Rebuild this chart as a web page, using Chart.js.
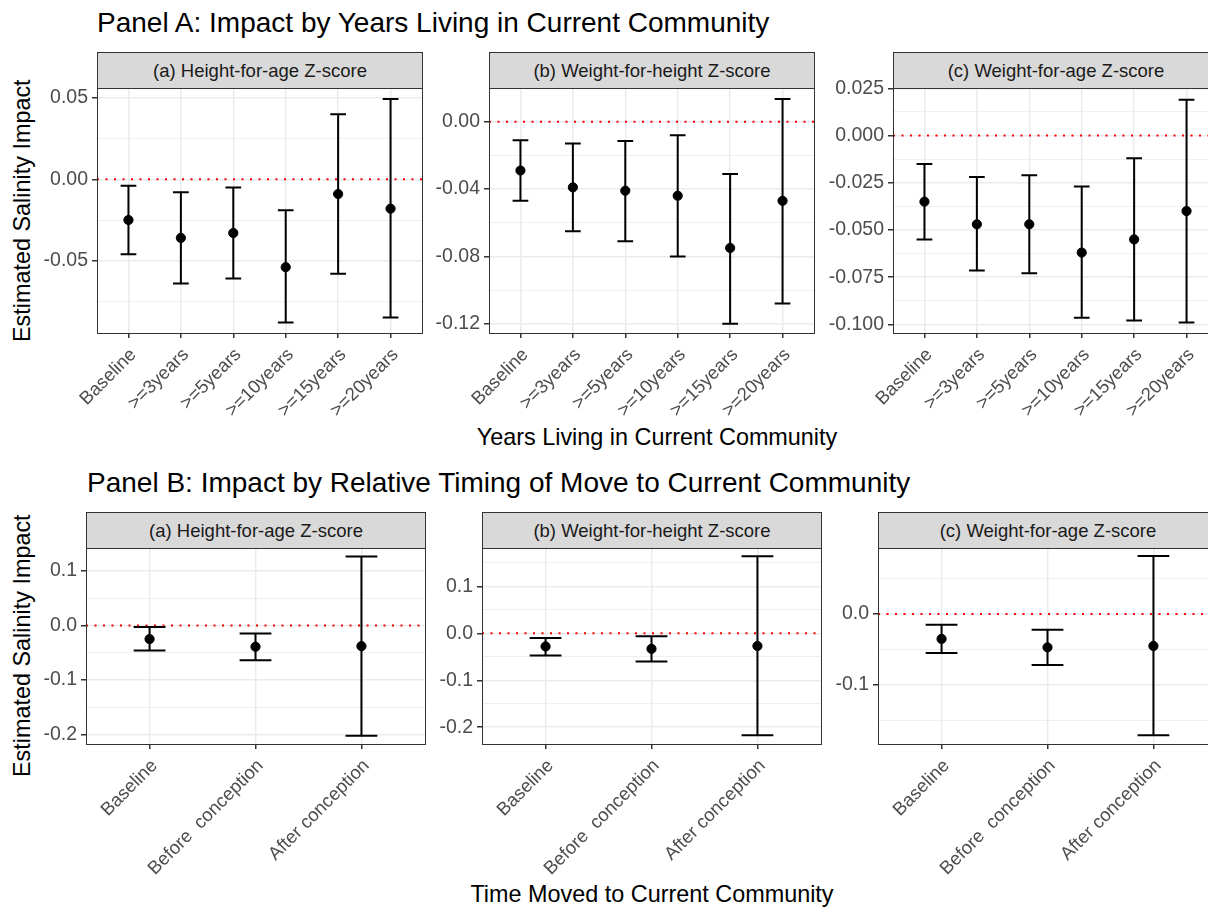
<!DOCTYPE html>
<html>
<head>
<meta charset="utf-8">
<script src="https://cdn.jsdelivr.net/npm/chart.js"></script>
<style>
  body { margin: 0; width: 1208px; height: 908px; overflow: hidden; background: #fff;
         position: relative; font-family: "Liberation Sans", Arial, sans-serif; }
  .txt { position: absolute; white-space: nowrap; line-height: 1; color: #000; }
  .strip { position: absolute; background: #d9d9d9; border: 1px solid #333; box-sizing: border-box;
           text-align: center; color: #1a1a1a; font-size: 18.5px; white-space: nowrap; }
  canvas { position: absolute; }
</style>
</head>
<body>

<div class="txt" style="left:97px; top:9px; font-size:28px;">Panel A: Impact by Years Living in Current Community</div>
<div class="txt" style="left:87px; top:469px; font-size:28px;">Panel B: Impact by Relative Timing of Move to Current Community</div>
<div class="txt" id="ytA" style="font-size:23.4px;">Estimated Salinity Impact</div>
<div class="txt" id="ytB" style="font-size:23.4px;">Estimated Salinity Impact</div>
<div class="txt" id="xtA" style="font-size:23.4px;">Years Living in Current Community</div>
<div class="txt" id="xtB" style="font-size:23.4px;">Time Moved to Current Community</div>

<script>
const yearCats = ['Baseline', '>=3years', '>=5years', '>=10years', '>=15years', '>=20years'];
const moveCats = ['Baseline', 'Before  conception', 'After conception'];
const outcomeNames = ['(a) Height-for-age Z-score', '(b) Weight-for-height Z-score', '(c) Weight-for-age Z-score'];

// Panel A: years living in current community
const hazYearsEst = [-0.025, -0.036, -0.033, -0.054, -0.009, -0.018];
const hazYearsLo  = [-0.046, -0.064, -0.061, -0.088, -0.058, -0.085];
const hazYearsHi  = [-0.004, -0.008, -0.005, -0.019,  0.040,  0.0495];

const whzYearsEst = [-0.029, -0.039, -0.041, -0.044, -0.075, -0.047];
const whzYearsLo  = [-0.047, -0.065, -0.071, -0.080, -0.120, -0.108];
const whzYearsHi  = [-0.011, -0.013, -0.0115, -0.008, -0.031, 0.0135];

const wazYearsEst = [-0.035, -0.047, -0.047, -0.062, -0.055, -0.040];
const wazYearsLo  = [-0.055, -0.0715, -0.073, -0.0965, -0.098, -0.099];
const wazYearsHi  = [-0.015, -0.022, -0.021, -0.027, -0.012, 0.019];

// Panel B: timing of move
const hazMoveEst = [-0.025, -0.039, -0.038];
const hazMoveLo  = [-0.046, -0.064, -0.202];
const hazMoveHi  = [-0.003, -0.015, 0.126];

const whzMoveEst = [-0.028, -0.033, -0.027];
const whzMoveLo  = [-0.047, -0.060, -0.217];
const whzMoveHi  = [-0.010, -0.006, 0.164];

const wazMoveEst = [-0.035, -0.047, -0.045];
const wazMoveLo  = [-0.055, -0.072, -0.171];
const wazMoveHi  = [-0.015, -0.022, 0.082];

// y tick labels (major) and minor grid values
const hazYearsTicks = [-0.05, 0, 0.05];           const hazYearsMinor = [-0.075, -0.025, 0.025];
const whzYearsTicks = [-0.12, -0.08, -0.04, 0];   const whzYearsMinor = [-0.10, -0.06, -0.02];
const wazYearsTicks = [-0.1, -0.075, -0.05, -0.025, 0, 0.025];
const wazYearsMinor = [-0.0875, -0.0625, -0.0375, -0.0125, 0.0125];
const hazMoveTicks = [-0.2, -0.1, 0, 0.1];        const hazMoveMinor = [-0.15, -0.05, 0.05];
const whzMoveTicks = [-0.2, -0.1, 0, 0.1];        const whzMoveMinor = [-0.15, -0.05, 0.05, 0.15];
const wazMoveTicks = [-0.1, 0];                   const wazMoveMinor = [-0.15, -0.05, 0.05];

const FONT = "'Liberation Sans', Arial, sans-serif";
const Y_AXIS_W = 80, X_AXIS_H = 150, PAD = 10;

// red dotted zero line, error bars, panel frame
const facetPlugin = {
  id: 'facet',
  beforeDatasetsDraw(chart, args, opts) {
    const { ctx, chartArea: a, scales: { x, y } } = chart;
    ctx.save();
    const y0 = y.getPixelForValue(0);
    ctx.strokeStyle = '#ff0000';
    ctx.lineWidth = 2;
    ctx.setLineDash([2, 6.5]);
    ctx.beginPath(); ctx.moveTo(a.left, y0); ctx.lineTo(a.right, y0); ctx.stroke();
    ctx.setLineDash([]);
    const half = (x.getPixelForValue(1) - x.getPixelForValue(0)) * 0.15;
    ctx.strokeStyle = '#000';
    ctx.lineWidth = 2;
    opts.lo.forEach((l, i) => {
      const px = x.getPixelForValue(i);
      const y1 = y.getPixelForValue(l), y2 = y.getPixelForValue(opts.hi[i]);
      ctx.beginPath();
      ctx.moveTo(px, y1); ctx.lineTo(px, y2);
      ctx.moveTo(px - half, y1); ctx.lineTo(px + half, y1);
      ctx.moveTo(px - half, y2); ctx.lineTo(px + half, y2);
      ctx.stroke();
    });
    ctx.restore();
  },
  afterDraw(chart) {
    const { ctx, chartArea: a } = chart;
    ctx.save();
    ctx.strokeStyle = '#333';
    ctx.lineWidth = 1;
    ctx.strokeRect(Math.round(a.left) + 0.5, Math.round(a.top) + 0.5,
                   Math.round(a.right - a.left), Math.round(a.bottom - a.top));
    ctx.restore();
  }
};

function makePanel(cfg) {
  const { left, top, w, h, cats, est, lo, hi, yMin, yMax, ticks, minor, dec, title } = cfg;
  const cv = document.createElement('canvas');
  cv.width = Y_AXIS_W + w + PAD;
  cv.height = PAD + h + X_AXIS_H;
  cv.style.left = (left - Y_AXIS_W) + 'px';
  cv.style.top = (top - PAD) + 'px';
  document.body.appendChild(cv);

  const strip = document.createElement('div');
  strip.className = 'strip';
  strip.style.left = left + 'px';
  strip.style.top = (top - 36) + 'px';
  strip.style.width = (w + 1) + 'px';
  strip.style.height = '37px';
  strip.style.lineHeight = '35px';
  strip.textContent = title;
  document.body.appendChild(strip);

  const yTicks = ticks.map(v => ({ value: v, major: true }))
    .concat(minor.map(v => ({ value: v, major: false })));

  new Chart(cv, {
    type: 'scatter',
    data: {
      datasets: [{
        data: est.map((v, i) => ({ x: i, y: v })),
        backgroundColor: '#000',
        borderColor: '#000',
        pointRadius: 4.6,
        pointHoverRadius: 4.6
      }]
    },
    options: {
      responsive: false,
      animation: false,
      events: [],
      layout: { padding: { top: PAD, right: PAD, left: 0, bottom: 0 } },
      plugins: {
        legend: { display: false },
        tooltip: { enabled: false },
        facet: { lo, hi }
      },
      scales: {
        x: {
          type: 'linear',
          min: -0.6,
          max: cats.length - 1 + 0.6,
          afterBuildTicks: s => { s.ticks = cats.map((c, i) => ({ value: i })); },
          afterFit: s => { s.height = X_AXIS_H; s.paddingLeft = 0; s.paddingRight = 0; },
          border: { display: false },
          grid: { color: '#ebebeb', lineWidth: 1.5, tickColor: '#333', tickLength: 5, drawTicks: true },
          ticks: {
            autoSkip: false, minRotation: 45, maxRotation: 45, padding: 6, labelOffset: 5,
            color: '#4d4d4d', font: { family: FONT, size: 18.5 },
            callback: v => cats[v]
          }
        },
        y: {
          type: 'linear',
          min: yMin,
          max: yMax,
          bounds: 'data',
          afterBuildTicks: s => { s.ticks = yTicks.map(t => ({ value: t.value, major: t.major })); },
          afterFit: s => { s.width = Y_AXIS_W; s.paddingTop = 0; s.paddingBottom = 0; },
          border: { display: false },
          grid: {
            color: '#ebebeb',
            lineWidth: c => (c.tick && c.tick.major ? 1.5 : 0.8),
            tickColor: c => (c.tick && c.tick.major ? '#333' : 'rgba(0,0,0,0)'),
            tickLength: 5
          },
          ticks: {
            autoSkip: false, padding: 4,
            color: '#4d4d4d', font: { family: FONT, size: 19.5 },
            callback: function (v, i, arr) { return arr[i].major ? Number(v).toFixed(dec) : ''; }
          }
        }
      }
    },
    plugins: [facetPlugin]
  });
}

// row A
makePanel({ left: 97, top: 88, w: 325, h: 245, cats: yearCats, est: hazYearsEst, lo: hazYearsLo, hi: hazYearsHi,
  yMin: -0.0945, yMax: 0.0562, ticks: hazYearsTicks, minor: hazYearsMinor, dec: 2, title: outcomeNames[0] });
makePanel({ left: 489, top: 88, w: 325, h: 245, cats: yearCats, est: whzYearsEst, lo: whzYearsLo, hi: whzYearsHi,
  yMin: -0.1255, yMax: 0.020, ticks: whzYearsTicks, minor: whzYearsMinor, dec: 2, title: outcomeNames[1] });
makePanel({ left: 893, top: 88, w: 325, h: 245, cats: yearCats, est: wazYearsEst, lo: wazYearsLo, hi: wazYearsHi,
  yMin: -0.1046, yMax: 0.0252, ticks: wazYearsTicks, minor: wazYearsMinor, dec: 3, title: outcomeNames[2] });

// row B
makePanel({ left: 86, top: 548, w: 339, h: 196, cats: moveCats, est: hazMoveEst, lo: hazMoveLo, hi: hazMoveHi,
  yMin: -0.217, yMax: 0.1416, ticks: hazMoveTicks, minor: hazMoveMinor, dec: 1, title: outcomeNames[0] });
makePanel({ left: 482, top: 548, w: 339, h: 196, cats: moveCats, est: whzMoveEst, lo: whzMoveLo, hi: whzMoveHi,
  yMin: -0.2357, yMax: 0.1817, ticks: whzMoveTicks, minor: whzMoveMinor, dec: 1, title: outcomeNames[1] });
makePanel({ left: 878, top: 548, w: 339, h: 196, cats: moveCats, est: wazMoveEst, lo: wazMoveLo, hi: wazMoveHi,
  yMin: -0.1835, yMax: 0.0934, ticks: wazMoveTicks, minor: wazMoveMinor, dec: 1, title: outcomeNames[2] });

// axis titles placed by their centres
function centre(id, cx, cy, rotate) {
  const el = document.getElementById(id);
  const r = el.getBoundingClientRect();
  el.style.left = (cx - r.width / 2) + 'px';
  el.style.top = (cy - r.height / 2) + 'px';
  if (rotate) el.style.transform = 'rotate(-90deg)';
}
centre('ytA', 22, 210.5, true);
centre('ytB', 22, 646, true);
centre('xtA', 657, 438, false);
centre('xtB', 652, 895, false);
</script>
</body>
</html>
